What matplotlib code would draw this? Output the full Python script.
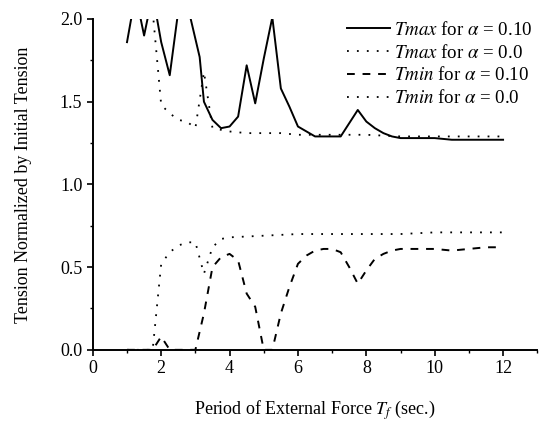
import numpy as np
import matplotlib
matplotlib.use("Agg")
import matplotlib.pyplot as plt
from matplotlib.ticker import MultipleLocator

plt.rcParams['font.family'] = ['Liberation Serif', 'DejaVu Serif']
plt.rcParams['mathtext.fontset'] = 'stix'

# Tmax for alpha = 0.10 (solid)
t_max_a10 = [1.0, 1.25, 1.5, 1.75, 2.0, 2.25, 2.5, 2.75, 3.0, 3.125, 3.25, 3.5, 3.75,
             4.0, 4.25, 4.5, 4.75, 5.0, 5.25, 5.5, 5.75, 6.0, 6.25, 6.5, 6.75, 7.0,
             7.25, 7.5, 7.75, 8.0, 8.25, 8.5, 8.75, 9.0, 9.5, 10.0, 10.5, 11.0, 11.5, 12.0]
v_max_a10 = [1.86, 2.15, 1.90, 2.15, 1.86, 1.66, 2.05, 2.10, 1.88, 1.77, 1.50, 1.39, 1.34,
             1.35, 1.41, 1.72, 1.49, 1.76, 2.01, 1.58, 1.47, 1.35, 1.32, 1.29, 1.29, 1.29,
             1.29, 1.37, 1.45, 1.38, 1.34, 1.31, 1.29, 1.28, 1.28, 1.28, 1.27, 1.27, 1.27, 1.27]

# Tmax for alpha = 0.0 (dotted)
t_max_a0 = [1.75, 2.0, 2.25, 2.5, 2.75, 3.0, 3.25, 3.5, 3.75, 4.0, 4.5, 5.0, 5.5, 6.0,
            7.0, 8.0, 9.0, 10.0, 11.0, 12.0]
v_max_a0 = [2.05, 1.48, 1.43, 1.39, 1.38, 1.34, 1.68, 1.34, 1.33, 1.32, 1.31, 1.31, 1.31, 1.30,
            1.30, 1.30, 1.29, 1.29, 1.29, 1.29]

# Tmin for alpha = 0.10 (dashed)
t_min_a10 = [1.0, 1.75, 2.0, 2.25, 3.0, 3.25, 3.5, 3.75, 4.0, 4.25, 4.5, 4.75, 5.0, 5.25,
             5.5, 5.75, 6.0, 6.25, 6.5, 6.75, 7.0, 7.25, 7.5, 7.75, 8.0, 8.25, 8.5, 8.75,
             9.0, 9.5, 10.0, 10.5, 11.0, 11.5, 12.0]
v_min_a10 = [0.0, 0.0, 0.08, 0.0, 0.0, 0.22, 0.50, 0.56, 0.58, 0.54, 0.34, 0.26, 0.0, 0.0,
             0.22, 0.38, 0.52, 0.57, 0.60, 0.61, 0.61, 0.59, 0.50, 0.40, 0.48, 0.55, 0.58, 0.60,
             0.61, 0.61, 0.61, 0.60, 0.61, 0.62, 0.62]

# Tmin for alpha = 0.0 (dotted)
t_min_a0 = [1.0, 1.75, 2.0, 2.25, 2.5, 2.75, 3.0, 3.25, 3.5, 3.75, 4.0, 5.0, 6.0, 7.0,
            8.0, 9.0, 10.0, 11.0, 12.0]
v_min_a0 = [0.0, 0.0, 0.52, 0.59, 0.63, 0.65, 0.65, 0.46, 0.62, 0.67, 0.68, 0.69, 0.70, 0.70,
            0.70, 0.70, 0.71, 0.71, 0.71]

labels = [r"$\mathit{Tmax}$ for $\alpha$ = 0.10",
          r"$\mathit{Tmax}$ for $\alpha$ = 0.0",
          r"$\mathit{Tmin}$ for $\alpha$ = 0.10",
          r"$\mathit{Tmin}$ for $\alpha$ = 0.0"]

fig = plt.figure(figsize=(5.46, 4.22), dpi=100)
ax = fig.add_axes([0.170, 0.171, 0.814, 0.784])

dot = (0, (1, 4.5))
ax.plot(t_max_a10, v_max_a10, color='black', lw=1.4, label=labels[0])
ax.plot(t_max_a0, v_max_a0, color='black', lw=1.3, linestyle=dot, label=labels[1])
ax.plot(t_min_a10, v_min_a10, color='black', lw=1.4, linestyle=(0, (4, 4)), label=labels[2])
ax.plot(t_min_a0, v_min_a0, color='black', lw=1.3, linestyle=dot, label=labels[3])

ax.set_xlim(0, 13)
ax.set_ylim(0, 2.0)
ax.set_xticks([0, 2, 4, 6, 8, 10, 12])
ax.set_yticks([0.0, 0.5, 1.0, 1.5, 2.0])
ax.set_yticklabels(['0.0', '0.5', '1.0', '1.5', '2.0'])
ax.xaxis.set_minor_locator(MultipleLocator(1))
ax.yaxis.set_minor_locator(MultipleLocator(0.25))
ax.tick_params(which='major', direction='out', length=4, width=1.2, labelsize=13)
ax.tick_params(which='minor', direction='out', length=2.5, width=1.0)
for s in ['top', 'right']:
    ax.spines[s].set_visible(False)
for s in ['left', 'bottom']:
    ax.spines[s].set_linewidth(1.4)

ax.set_xlabel(r"Period of External Force $T_f$ (sec.)", fontsize=13, labelpad=15)
ax.set_ylabel("Tension Normalized by Initial Tension", fontsize=13, labelpad=20)

ax.legend(loc='upper right', frameon=False, fontsize=13.6, handlelength=2.3,
          handletextpad=0.2, labelspacing=0.25, borderpad=0, borderaxespad=0,
          bbox_to_anchor=(532 / 546, 1 - 21 / 422), bbox_transform=fig.transFigure)

fig.savefig("out.png", dpi=100)
